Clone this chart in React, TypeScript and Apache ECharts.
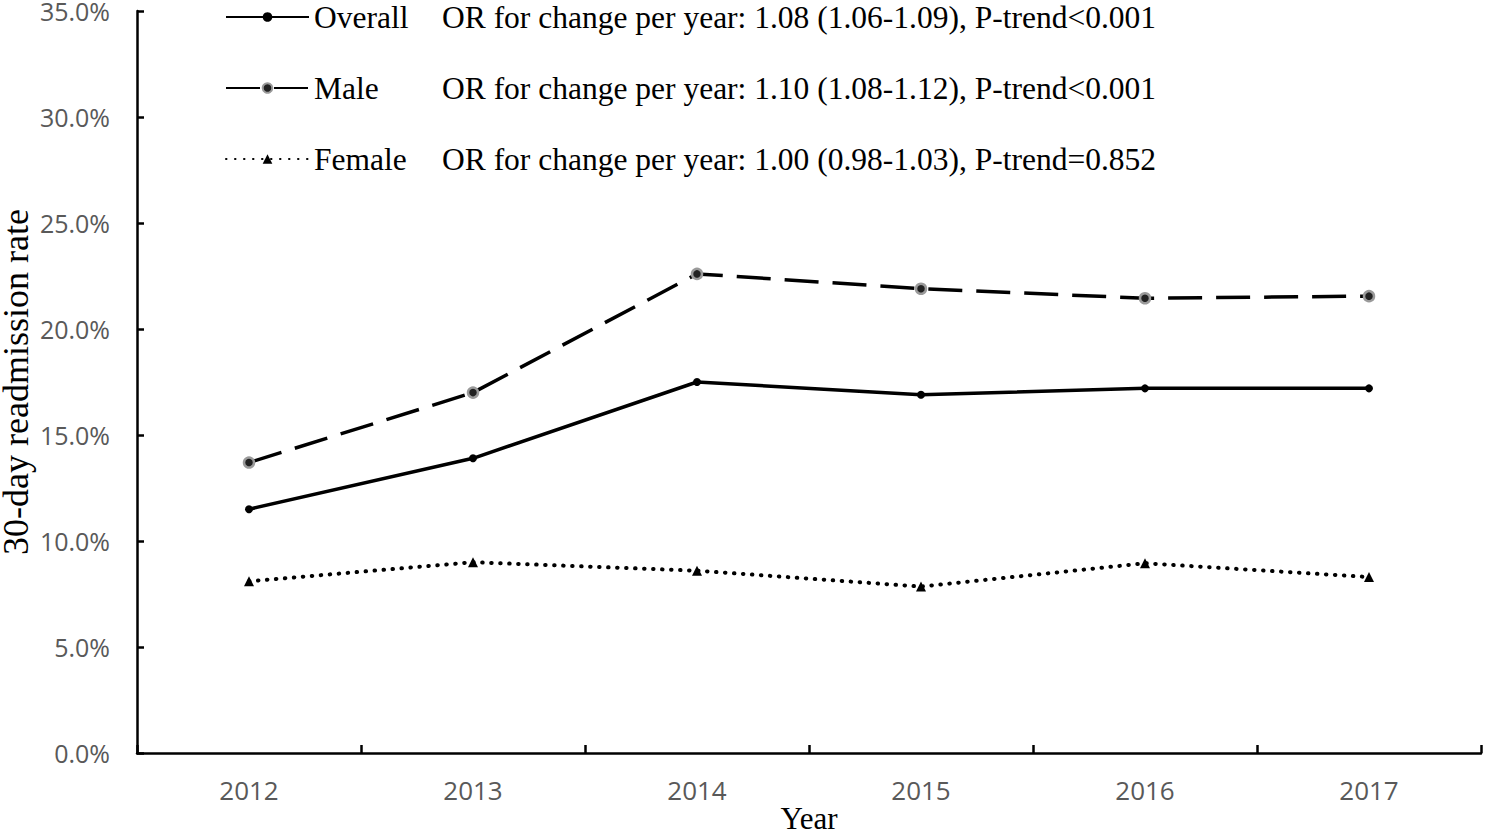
import React, { useEffect, useRef } from "react";
import * as echarts from "echarts";

const years = ["2012", "2013", "2014", "2015", "2016", "2017"];
const overall = [11.5, 13.9, 17.5, 16.9, 17.2, 17.2];
const male = [13.7, 17.0, 22.6, 21.9, 21.45, 21.55];
const female = [8.1, 9.0, 8.6, 7.85, 8.95, 8.3];
const seriesNames = ["Overall", "Male", "Female"];
const orTexts = [
  "OR for change per year: 1.08 (1.06-1.09), P-trend<0.001",
  "OR for change per year: 1.10 (1.08-1.12), P-trend<0.001",
  "OR for change per year: 1.00 (0.98-1.03), P-trend=0.852",
];
const yTicks = { min: 0, max: 35, interval: 5 };

const serif = "'Liberation Serif', 'DejaVu Serif', serif";
const sans = "'Open Sans', 'Noto Sans', sans-serif";

export default function App() {
  const ref = useRef<HTMLDivElement>(null);

  useEffect(() => {
    if (!ref.current) return;
    const chart = echarts.init(ref.current, undefined, { renderer: "svg" });
    const option: any = {
      animation: false,
      backgroundColor: "#ffffff",
      grid: { left: 137, right: 6, top: 11, bottom: 85, containLabel: false, outerBoundsMode: "none" },
      legend: {
        orient: "vertical",
        left: 225,
        top: -1,
        padding: 0,
        itemWidth: 83,
        itemHeight: 12,
        itemGap: 35,
        data: seriesNames,
        formatter: (name: string) => {
          const i = seriesNames.indexOf(name);
          return `{n|${name}}{o|${orTexts[i]}}`;
        },
        textStyle: {
          color: "#000",
          fontFamily: serif,
          fontSize: 31.5,
          lineHeight: 36,
          rich: {
            n: { width: 128, fontFamily: serif, fontSize: 31.5, color: "#000", lineHeight: 36 },
            o: { fontFamily: serif, fontSize: 31.5, color: "#000", lineHeight: 36 },
          },
        },
      },
      xAxis: {
        type: "category",
        data: years,
        boundaryGap: true,
        name: "Year",
        nameLocation: "middle",
        nameGap: 49,
        nameMoveOverlap: false,
        nameTextStyle: { fontFamily: serif, fontSize: 31, color: "#000", lineHeight: 32 },
        axisLine: { show: true, lineStyle: { color: "#000", width: 2.5 } },
        axisTick: { show: true, inside: true, length: 8, interval: 0, lineStyle: { color: "#000", width: 2.5 } },
        axisLabel: { margin: 24, fontFamily: sans, fontSize: 26, color: "#595959" },
        splitLine: { show: false },
      },
      yAxis: {
        type: "value",
        min: yTicks.min,
        max: yTicks.max,
        interval: yTicks.interval,
        name: "30-day readmission rate",
        nameLocation: "middle",
        nameGap: 103,
        nameMoveOverlap: false,
        nameTextStyle: { fontFamily: serif, fontSize: 36, color: "#000" },
        axisLine: { show: true, lineStyle: { color: "#000", width: 2.5 } },
        axisTick: { show: true, inside: true, length: 7, lineStyle: { color: "#000", width: 2.5 } },
        axisLabel: {
          margin: 27,
          fontFamily: sans,
          fontSize: 25,
          lineHeight: 22,
          color: "#595959",
          formatter: (v: number) => v.toFixed(1) + "%",
        },
        splitLine: { show: false },
      },
      series: [
        {
          name: "Overall",
          type: "line",
          data: overall,
          symbol: "circle",
          symbolSize: 8,
          itemStyle: { color: "#000" },
          lineStyle: { color: "#000", width: 3.5, type: "solid" },
          z: 3,
        },
        {
          name: "Male",
          type: "line",
          data: male,
          symbol: "circle",
          symbolSize: 10,
          itemStyle: { color: "#222", borderColor: "#9a9a9a", borderWidth: 2.5 },
          lineStyle: { color: "#000", width: 3.5, type: [34, 14] },
          z: 2,
        },
        {
          name: "Female",
          type: "line",
          data: female,
          symbol: "triangle",
          symbolSize: 10,
          itemStyle: { color: "#000" },
          lineStyle: { color: "#000", width: 4, type: [0.5, 8.5], cap: "round" },
          z: 1,
        },
      ],
    };
    chart.setOption(option);
    return () => chart.dispose();
  }, []);

  return (
    <div
      ref={ref}
      style={{ position: "absolute", left: 0, top: 0, width: 1487, height: 838 }}
    />
  );
}
